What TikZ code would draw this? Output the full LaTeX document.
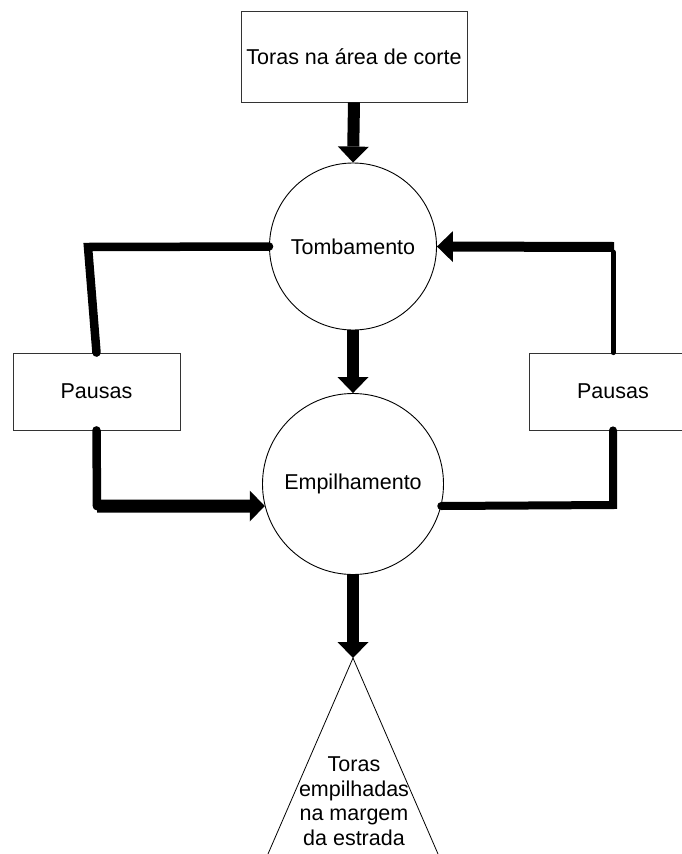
\documentclass[tikz,border=0pt]{standalone}
\usepackage{fontspec}
\setmainfont{Liberation Sans}
\usetikzlibrary{arrows.meta,calc}
\begin{document}
\begin{tikzpicture}[x=1pt,y=-1pt,
  txt/.style={font=\fontsize{21.5}{25.5}\selectfont},
  box/.style={txt, draw=black!80, line width=0.8pt, rectangle, inner sep=0pt},
  proc/.style={txt, draw=black, line width=0.9pt, circle, inner sep=0pt},
  bigarrow/.style={line width=12pt, -{Triangle[length=16pt,width=31pt,line width=0pt]}},
  flow/.style={line width=8.5pt, line cap=round},
]
\useasboundingbox (0,0) rectangle (682,854);

% nodes
\node[box, minimum width=226pt, minimum height=91pt] (top) at (354,56.5) {Toras na área de corte};
\node[proc, minimum size=167pt] (tomb) at (353,246.5) {Tombamento};
\node[proc, minimum size=181pt] (emp) at (353,484) {Empilhamento};
\node[box, minimum width=167pt, minimum height=77pt] (pl) at (96.5,391.5) {Pausas};
\node[box, minimum width=167pt, minimum height=77pt] (pr) at (613,391.5) {Pausas};

% pile triangle
\coordinate (apex) at (353,658);
\coordinate (bl) at (259.3,874);
\coordinate (br) at (446.7,874);
\draw[line width=0.8pt] (bl) -- (apex) -- (br);
\node[txt, font=\fontsize{21.5}{24.5}\selectfont, align=center, inner sep=0pt] (pile) at (354,801) {Toras\\empilhadas\\na margem\\da estrada};

% main flow arrows
\draw[bigarrow] (top.south) -- (tomb.north);
\draw[bigarrow] (tomb.south) -- (emp.north);
\draw[bigarrow] (emp.south) -- (apex);

% left loop
\coordinate (lc1) at (88,247);
\draw[flow] (pl.north) -- (lc1) -- (tomb.west);
\coordinate (lc2) at (97,506);
\draw[flow] (pl.south) -- (lc2);
\draw[line width=13pt, -{Triangle[length=15pt,width=31pt,line width=0pt]}] (lc2) -- (emp.194);
\fill (lc2) circle (4.25pt);

% right loop
\coordinate (rc1) at (613,247);
\draw[line width=5pt, line cap=round] (pr.north) -- ($(rc1)+(0,5)$);
\draw[line width=10pt, -{Triangle[length=16pt,width=31pt,line width=0pt]}] ($(rc1)+(1,0)$) -- (tomb.east);
\coordinate (rc2) at (613,505);
\draw[flow, line width=8pt] (pr.south) -- (rc2) -- (emp.-14);
\end{tikzpicture}
\end{document}
